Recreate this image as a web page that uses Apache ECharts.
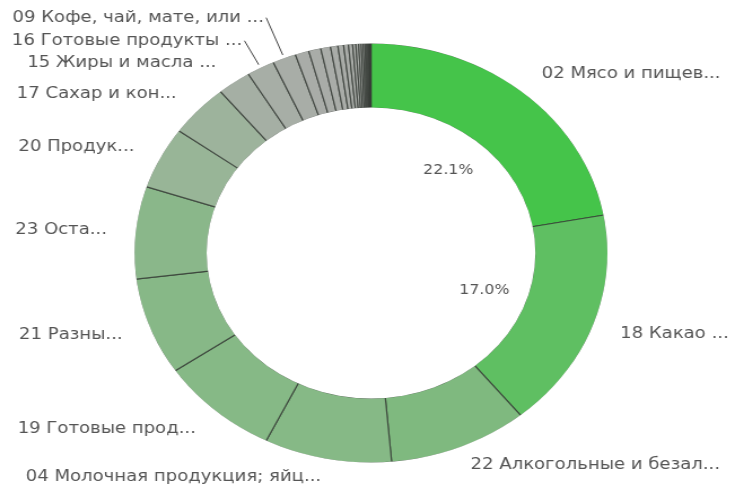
<!DOCTYPE html>
<html><head><meta charset="utf-8">
<script src="https://cdn.jsdelivr.net/npm/echarts@6/dist/echarts.min.js"></script>
<style>
html,body{margin:0;padding:0;background:#fff;overflow:hidden}
#wrap{width:733px;height:489px;overflow:hidden;position:relative}
#chart{width:649px;height:489px;transform:scaleX(1.129);transform-origin:0 0}
</style>
</head><body><div id="wrap"><div id="chart"></div></div>
<script>
// Categories (as displayed) and their shares, clockwise from 12 o'clock
const categories = [
  '02 Мясо и пищев...', '18 Какао ...', '22 Алкогольные и безал...',
  '04 Молочная продукция; яйц...', '19 Готовые прод...', '21 Разны...',
  '23 Оста...', '20 Продук...', '17 Сахар и кон...', '15 Жиры и масла ...',
  '16 Готовые продукты ...', '09 Кофе, чай, мате, или ...',
  '08', '07', '10', '11', '12', '03', '13', '14', '24', '01',
  '05', '06', '25', '33', '35', '38', '29', '30', '39', '48'
];
const values = [
  22.1, 17.0, 9.5, 8.7, 8.2, 7.5, 7.1, 4.8, 4.1, 2.3, 1.9, 1.6,
  0.94, 0.83, 0.67, 0.50, 0.39, 0.33, 0.28, 0.22, 0.19, 0.17,
  0.14, 0.12, 0.10, 0.08, 0.06, 0.05, 0.04, 0.03, 0.02, 0.02
];
const labeledCount = 12;
const percentLabelCount = 2;
// labels whose leader line is drawn (they sit further out)
const linedLabels = ['16 Готовые продукты ...', '09 Кофе, чай, мате, или ...'];
// per-label leader lengths differing from the default
const leaderOverrides = {
  '16 Готовые продукты ...': 30,
  '09 Кофе, чай, мате, или ...': 43,
  '04 Молочная продукция; яйц...': 18,
  '22 Алкогольные и безал...': 19
};

const palette = [
  '#45c44a', '#5fbf62', '#7fb97f', '#86b986', '#86b986', '#87b887',
  '#8ab78a', '#98b597', '#9db39c', '#a5afa4', '#a7aea6', '#a8ada7'
];
const tailColor = '#a9aca8';

const chart = echarts.init(document.getElementById('chart'), null, {renderer: 'canvas'});
const total = values.reduce((a, b) => a + b, 0);
const FONT = '"DejaVu Sans", sans-serif';

const mainData = categories.map((name, i) => {
  const d = {
    name, value: values[i],
    itemStyle: {color: i < palette.length ? palette[i] : tailColor},
    label: {show: i < labeledCount},
    labelLine: {show: linedLabels.includes(name)}
  };
  if (leaderOverrides[name] !== undefined) d.labelLine.length = leaderOverrides[name];
  return d;
});

const pctData = categories.map((name, i) => ({
  name, value: values[i],
  label: {show: i < percentLabelCount}
}));

const cx = 328.6, cy = 253, R = 210, r0 = 145;

chart.setOption({
  animation: false,
  backgroundColor: '#ffffff',
  series: [
    {
      type: 'pie',
      center: [cx, cy],
      radius: [r0, R],
      startAngle: 90,
      clockwise: true,
      avoidLabelOverlap: true,
      data: mainData,
      itemStyle: {borderColor: 'rgba(50,55,50,0.75)', borderWidth: 1.2},
      label: {
        position: 'outside',
        formatter: '{b}',
        color: '#555555',
        fontSize: 16,
        lineHeight: 20,
        fontFamily: FONT,
        distanceToLabelLine: 2,
        bleedMargin: 1,
        alignTo: 'none'
      },
      labelLine: {
        length: 23, length2: 0, smooth: false,
        lineStyle: {color: '#444444', width: 1}
      },
      emphasis: {disabled: true},
      z: 2
    },
    {
      type: 'pie',
      center: [cx, cy],
      radius: [0, 208],
      startAngle: 90,
      clockwise: true,
      silent: true,
      data: pctData,
      itemStyle: {color: 'rgba(0,0,0,0)', borderWidth: 0},
      label: {
        position: 'inside',
        color: '#555555',
        fontSize: 14,
        fontFamily: FONT,
        formatter: p => (p.value / total * 100).toFixed(1) + '%'
      },
      labelLine: {show: false},
      emphasis: {disabled: true},
      z: 4
    },
    {
      type: 'pie', center: [cx, cy], radius: [R - 0.6, R + 3],
      silent: true, data: [{value: 1, name: ''}],
      itemStyle: {color: '#ffffff', borderWidth: 0},
      label: {show: false}, labelLine: {show: false}, z: 3
    },
    {
      type: 'pie', center: [cx, cy], radius: [r0 - 3, r0 + 0.6],
      silent: true, data: [{value: 1, name: ''}],
      itemStyle: {color: '#ffffff', borderWidth: 0},
      label: {show: false}, labelLine: {show: false}, z: 3
    }
  ]
});
</script>
</body></html>
